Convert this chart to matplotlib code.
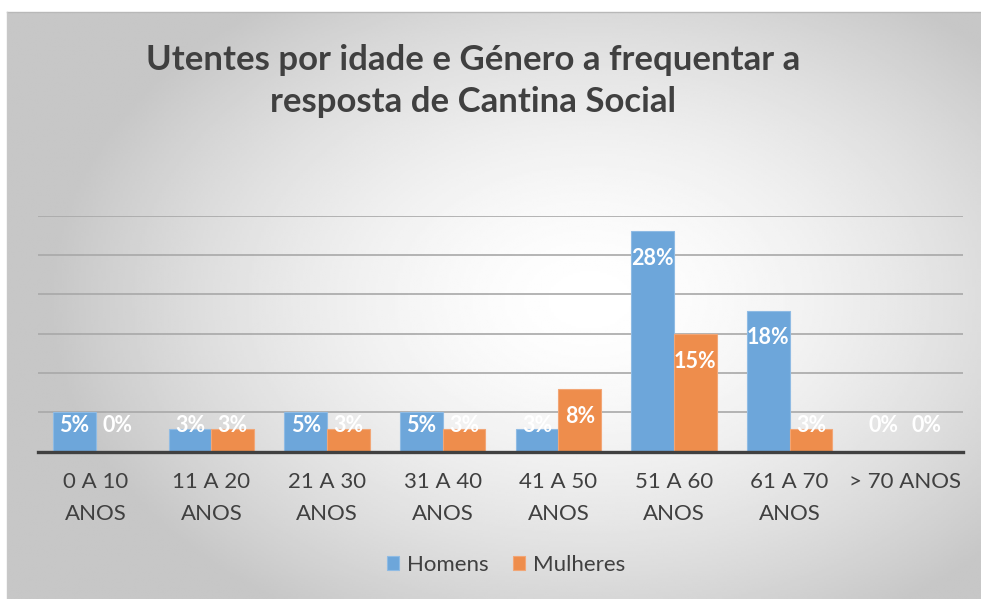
import numpy as np
import matplotlib
matplotlib.use("Agg")
import matplotlib.pyplot as plt

categories = ["0 A 10\nANOS", "11 A 20\nANOS", "21 A 30\nANOS", "31 A 40\nANOS",
              "41 A 50\nANOS", "51 A 60\nANOS", "61 A 70\nANOS", "> 70 ANOS"]
homens = [5.0, 2.9, 5.0, 5.0, 2.9, 28.0, 17.9, 0.0]
mulheres = [0.0, 2.9, 2.9, 2.9, 7.9, 14.9, 2.9, 0.0]
series_names = ["Homens", "Mulheres"]
title = "Utentes por idade e Género a frequentar a\nresposta de Cantina Social"

BLUE = "#6DA6DA"
ORANGE = "#EE8D4C"
TEXT = "#404040"
FONT = "Lato"

W, H = 981, 599
fig = plt.figure(figsize=(W / 100, H / 100), dpi=100, facecolor="white")

# radial gradient background (Excel chart area)
bg = fig.add_axes([7 / W, 0, 1 - 7 / W, (H - 12) / H], zorder=0)
xs = np.linspace(7, W, 400)
ys = np.linspace(12, H, 300)
X, Y = np.meshgrid(xs, ys)
r = np.sqrt(((X - 590) / 540) ** 2 + ((Y - 300) / 370) ** 2)
shade = 1 - 0.22 * np.clip(r, 0, 1) ** 1.6
bg.imshow(shade, cmap="gray", vmin=0, vmax=1, aspect="auto",
          extent=[0, 1, 0, 1], origin="upper")
bg.set_xlim(0, 1)
bg.set_ylim(0, 1)
bg.axis("off")
fig.add_artist(plt.Line2D([7 / W, 1], [(H - 12) / H] * 2, color="#b8b8b8", lw=1))
fig.add_artist(plt.Line2D([7 / W] * 2, [0, (H - 12) / H], color="#c8c8c8", lw=1))

ax = fig.add_axes([38 / W, (H - 451.6) / H, (963 - 38) / W, (451.6 - 215.7) / H], zorder=2)
ax.patch.set_alpha(0)

x = np.arange(len(categories))
width = 0.37
b1 = ax.bar(x - width / 2, homens, width, color=BLUE, edgecolor="#8fbbe4",
            linewidth=0.8, label=series_names[0], zorder=3)
b2 = ax.bar(x + width / 2, mulheres, width, color=ORANGE, edgecolor="#f2a676",
            linewidth=0.8, label=series_names[1], zorder=3)

ax.set_xlim(-0.5, len(categories) - 0.5)
ax.set_ylim(0, 30)
ax.set_yticks(np.arange(5, 31, 5))
ax.yaxis.grid(True, color="#a8a8a8", linewidth=1.2, zorder=1)
ax.set_axisbelow(True)
ax.tick_params(axis="y", length=0, labelleft=False)
ax.set_xticks(x)
ax.set_xticklabels(categories, fontsize=16, color=TEXT, family=FONT, linespacing=1.7)
ax.tick_params(axis="x", length=0, pad=15)
for s in ["top", "right", "left"]:
    ax.spines[s].set_visible(False)
ax.spines["bottom"].set_color("#404040")
ax.spines["bottom"].set_linewidth(2.4)
ax.spines["bottom"].set_zorder(5)

# data labels, "inside end"
for bars, vals in [(b1, homens), (b2, mulheres)]:
    for bar, v in zip(bars, vals):
        ax.annotate(f"{v:.0f}%", (bar.get_x() + bar.get_width() / 2, max(v, 6.7)),
                    xytext=(0, -19.5), textcoords="offset points",
                    ha="center", va="center", color="white", fontsize=15.5,
                    fontweight="bold", family=FONT, zorder=6)

fig.text(473 / W, 1 - 81 / H, title, ha="center", va="center", fontsize=25,
         fontweight="bold", color=TEXT, family=FONT, linespacing=1.42)

leg = fig.legend(handles=[b1, b2], loc="center", ncol=2,
                 bbox_to_anchor=(506 / W, 1 - 565 / H), frameon=False,
                 prop={"family": FONT, "size": 16}, handlelength=0.55,
                 handleheight=0.55, handletextpad=0.35, columnspacing=1.1)
for t in leg.get_texts():
    t.set_color(TEXT)

fig.savefig("out.png", dpi=100, facecolor="white")
